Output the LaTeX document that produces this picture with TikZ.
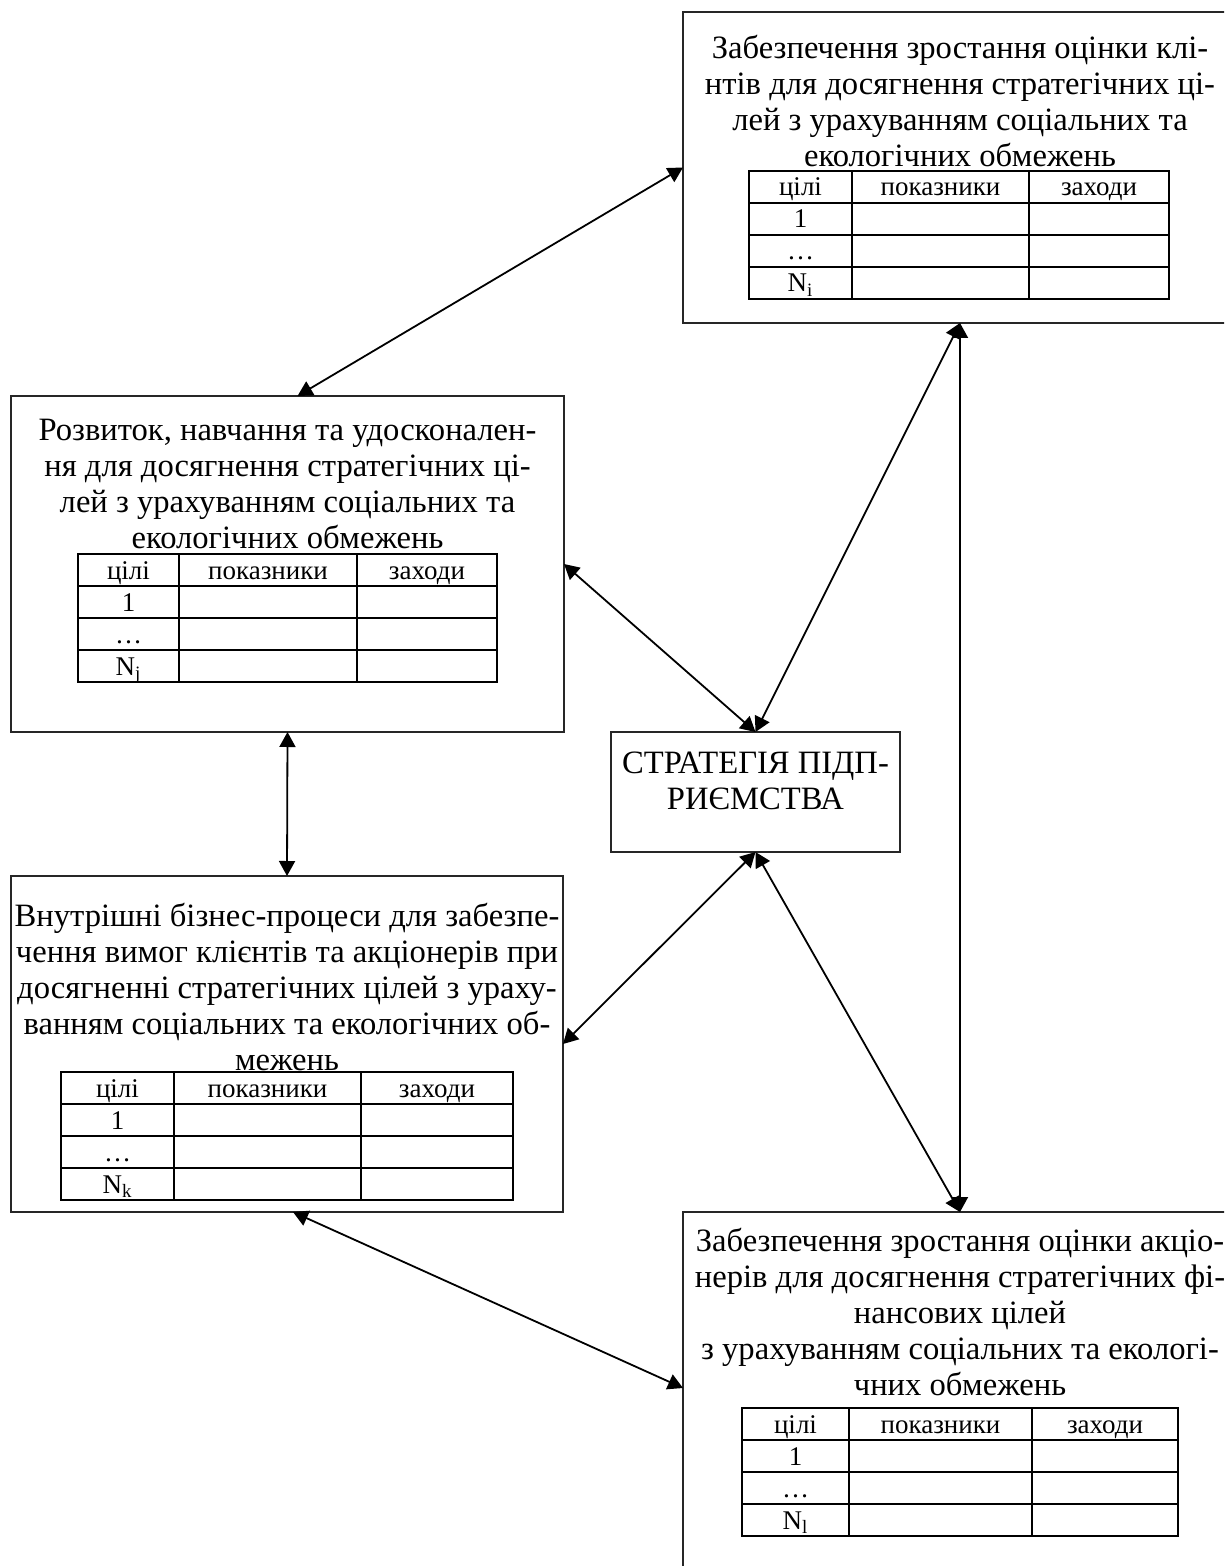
\documentclass[tikz,border=0pt]{standalone}
\usepackage{fontspec}
\setmainfont{Liberation Serif}
\usetikzlibrary{arrows.meta}

\begin{document}
\begin{tikzpicture}[x=0.5pt,y=-0.5pt,
    box/.style={draw=black!85,line width=1pt,inner sep=0pt,outer sep=0pt},
    txt/.style={align=center,inner sep=0pt,anchor=north,font=\fontsize{16.3}{18}\selectfont},
    tbl/.style={line width=1.2pt},
    cell/.style={inner sep=0pt,anchor=base,font=\fontsize{13.5}{15}\selectfont},
    link/.style={<->,line width=0.9pt,>={Triangle[length=7.5pt,width=8pt]}}]
  \useasboundingbox (0,0) rectangle (1224,1566);
  \clip (0,0) rectangle (1224,1566);
  % blocks (the right ones run past the page edge)
  \node[box,minimum width=288.5pt,minimum height=155.5pt] (K) at (971.5,167.5) {};
  \node[box,minimum width=276.5pt,minimum height=168pt] (R) at (287.5,564) {};
  \node[box,minimum width=276pt,minimum height=168pt] (V) at (287,1044) {};
  \node[box,minimum width=288.5pt,minimum height=184pt] (A) at (971.5,1396) {};
  \node[box,minimum width=144.5pt,minimum height=60pt] (S) at (755.5,792) {};
  % texts
  \node[txt] (Kt) at (960,35) {Забезпечення зростання оцінки клі-\\нтів для досягнення стратегічних ці-\\лей з урахуванням соціальних та\\екологічних обмежень};
  \node[txt] (Rt) at (287.5,419) {Розвиток, навчання та удосконален-\\ня для досягнення стратегічних ці-\\лей з урахуванням соціальних та\\екологічних обмежень};
  \node[txt] (Vt) at (287,903) {Внутрішні бізнес-процеси для забезпе-\\чення вимог клієнтів та акціонерів при\\досягненні стратегічних цілей з ураху-\\ванням соціальних та екологічних об-\\межень};
  \node[txt] (At) at (960,1228) {Забезпечення зростання оцінки акціо-\\нерів для досягнення стратегічних фі-\\нансових цілей\\з урахуванням соціальних та екологі-\\чних обмежень};
  \node[txt] (St) at (755.5,752) {СТРАТЕГІЯ ПІДП-\\РИЄМСТВА};
  % tables
  \foreach \n/\a/\b/\c/\d/\y/\s in {K/749/852/1029/1169/171/i,R/78/179/357/497/554/j,
      V/61/174/361/513/1072/k,A/742/849/1032/1178/1408/l}{
    \draw[tbl] (\a,\y) rectangle (\d,\y+128);
    \draw[tbl] (\a,\y+32) -- (\d,\y+32) (\a,\y+64) -- (\d,\y+64) (\a,\y+96) -- (\d,\y+96);
    \draw[tbl] (\b,\y) -- (\b,\y+128) (\c,\y) -- (\c,\y+128);
    \node[cell] (\n-h1) at ({(\a+\b)/2},\y+25) {цілі};
    \node[cell] (\n-h2) at ({(\b+\c)/2},\y+25) {показники};
    \node[cell] (\n-h3) at ({(\c+\d)/2},\y+25) {заходи};
    \node[cell] (\n-r1) at ({(\a+\b)/2},\y+57) {1};
    \node[cell] (\n-r2) at ({(\a+\b)/2},\y+89) {…};
    \node[cell] (\n-r3) at ({(\a+\b)/2},\y+121) {N\textsubscript{\s}};
  }
  % links
  \draw[link] (K.west) -- ([xshift=5pt]R.north);
  \draw[link] (R.east) -- (S.north);
  \draw[link] ([xshift=-5.75pt]K.south) -- (S.north);
  \draw[link] ([xshift=-5.75pt]K.south) -- ([xshift=-5.75pt]A.north);
  \draw[link] (R.south) -- (V.north);
  \draw[link] (S.south) -- (V.east);
  \draw[link] (S.south) -- ([xshift=-5.75pt]A.north);
  \draw[link] ([xshift=3pt]V.south) -- ([yshift=4pt]A.west);
\end{tikzpicture}
\end{document}
